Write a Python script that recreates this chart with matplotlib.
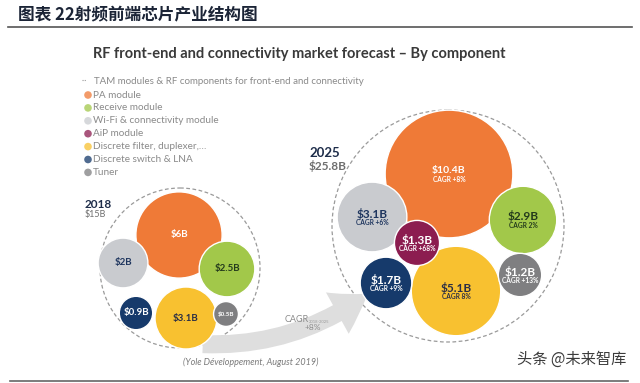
import matplotlib
matplotlib.use("Agg")
import matplotlib.pyplot as plt
from matplotlib.patches import Circle, FancyArrowPatch

plt.rcParams["font.family"] = ["Lato", "DejaVu Sans"]

# %% data
categories = [
    "PA module",
    "Receive module",
    "Wi-Fi & connectivity module",
    "AiP module",
    "Discrete filter, duplexer,…",
    "Discrete switch & LNA",
    "Tuner",
]
values_2018 = [6.0, 2.5, 2.0, 0.0, 3.1, 0.9, 0.5]
values_2025 = [10.4, 2.9, 3.1, 1.3, 5.1, 1.7, 1.2]
cagr_2025 = ["+8%", "2%", "+6%", "+68%", "8%", "+9%", "+13%"]
total_2018 = 15
total_2025 = 25.8
cagr_total = "+8%"

# %% styles / layout (pixel space of a 640x383 canvas)
colors = ["#EF7A37", "#A2C84A", "#C9CBCF", "#8C1D50", "#F8C130", "#163A6B", "#7F7F81"]
text_colors = ["white", "#243A1C", "#1E355E", "white", "#2A2E45", "white", "white"]
centers_2018 = [(179, 235), (227, 269), (123, 263), None, (186, 318), (136, 313), (226, 314)]
centers_2025 = [(449, 174), (523, 220), (372, 217), (417, 243), (456, 291), (386, 283), (520, 275)]
draw_order = [0, 2, 1, 4, 5, 6, 3]

fig = plt.figure(figsize=(6.4, 3.83), dpi=100)
ax = fig.add_axes([0, 0, 1, 1])
ax.set_xlim(0, 640)
ax.set_ylim(383, 0)
ax.set_aspect("equal")
ax.axis("off")

# header
ax.text(18, 15, "图表 22射频前端芯片产业结构图", fontsize=12, fontweight="bold",
        color="#1B2436", va="center", family=["Noto Sans CJK SC", "DejaVu Sans"])
ax.plot([8, 632], [27, 27], color="#555555", lw=1.2)
ax.plot([10, 628], [381, 381], color="#666666", lw=1.2)
ax.text(299, 54, "RF front-end and connectivity market forecast – By component",
        fontsize=10.5, fontweight="bold", color="#3A3A3A", ha="center", va="center")

# legend
ax.plot([82, 86], [80, 80], color="#999999", lw=0.8, ls=(0, (1, 1)))
ax.text(94, 81, "TAM modules & RF components for front-end and connectivity",
        fontsize=7, color="#8A8A8A", va="center")
for i, name in enumerate(categories):
    y = 95 + i * 12.9
    ax.add_patch(Circle((88, y), 3.8, color=colors[i], alpha=0.75, lw=0))
    ax.text(93, y, name, fontsize=7.2, color="#8A8A8A", va="center")

# outer dashed circles
ax.add_patch(Circle((180, 268), 80, facecolor="white", edgecolor="#9A9A9A",
                    lw=0.9, ls=(0, (3, 2)), zorder=1))
ax.add_patch(Circle((448, 226), 116, facecolor="white", edgecolor="#9A9A9A",
                    lw=0.9, ls=(0, (3, 2)), zorder=1))

# growth arrow
arrow = FancyArrowPatch((200, 344), (370, 292), connectionstyle="arc3,rad=0.18",
                        arrowstyle="simple,head_width=34,head_length=26,tail_width=13",
                        color="#DEDEDE", lw=0, zorder=2)
ax.add_patch(arrow)
ax.text(285, 319, "CAGR", fontsize=6.5, color="#8C8C8C", va="center")
ax.text(309, 322, "2018-2025", fontsize=3, color="#9A9A9A", va="center")
ax.text(305, 328, cagr_total, fontsize=6, color="#8C8C8C", va="center")
ax.text(251, 362, "(Yole Développement, August 2019)", fontsize=6.5, style="italic",
        color="#7A7A7A", ha="center", va="center")

# year labels
ax.text(85, 205, "2018", fontsize=8.5, fontweight="bold", color="#1E2D4A", va="center")
ax.text(85, 215, f"${total_2018}B", fontsize=6.5, color="#6E6E6E", va="center")
ax.text(309, 153, "2025", fontsize=9.5, fontweight="bold", color="#1E2D4A", va="center")
ax.text(309, 166, f"${total_2025}B", fontsize=8.5, fontweight="bold", color="#6E6E6E", va="center")

# bubbles 2018
for i in draw_order:
    v = values_2018[i]
    if v <= 0:
        continue
    cx, cy = centers_2018[i]
    r = 17.6 * v ** 0.5
    ax.add_patch(Circle((cx, cy), r, facecolor=colors[i], edgecolor="white", lw=1, zorder=3))
    fs = 7 if v >= 0.8 else 4.5
    ax.text(cx, cy, f"${v:g}B", fontsize=fs, fontweight="bold", color=text_colors[i],
            ha="center", va="center", zorder=4)

# bubbles 2025
for i in draw_order:
    v = values_2025[i]
    cx, cy = centers_2025[i]
    r = 19.8 * v ** 0.5
    ax.add_patch(Circle((cx, cy), r, facecolor=colors[i], edgecolor="white", lw=1, zorder=3))
    fs = 7.5 if i == 0 else 8.5
    ax.text(cx, cy - 3.5, f"${v:g}B", fontsize=fs, fontweight="bold", color=text_colors[i],
            ha="center", va="center", zorder=4)
    ax.text(cx, cy + 5.5, f"CAGR {cagr_2025[i]}", fontsize=4.8, fontweight="bold",
            color=text_colors[i], ha="center", va="center", zorder=4)

# watermark
ax.text(572, 359, "头条 @未来智库", fontsize=11, color="#3C3C3C", ha="center", va="center",
        family=["Noto Sans CJK SC", "DejaVu Sans"])

fig.savefig("out.png", dpi=100)
